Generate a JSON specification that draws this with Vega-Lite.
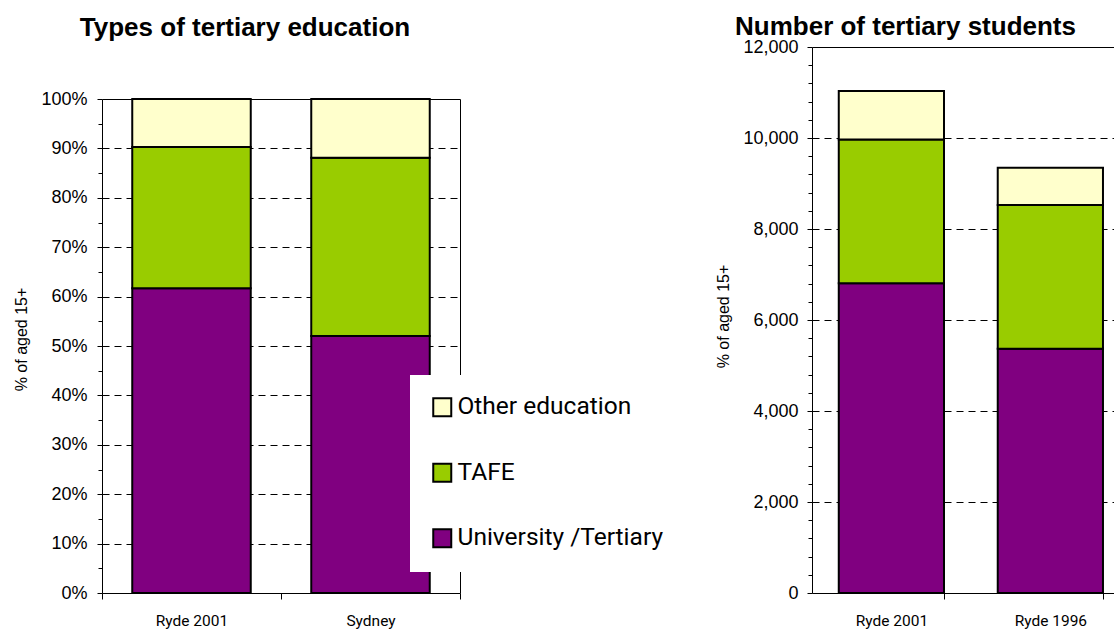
{
  "$schema": "https://vega.github.io/schema/vega-lite/v6.json",
  "background": "white",
  "padding": {"left": 13, "top": 14, "right": 0, "bottom": 0},
  "spacing": 254,
  "datasets": {
    "pct": [
      {"Area": "Ryde 2001", "Type": "University /Tertiary", "Value": 61.7},
      {"Area": "Ryde 2001", "Type": "TAFE", "Value": 28.6},
      {"Area": "Ryde 2001", "Type": "Other education", "Value": 9.7},
      {"Area": "Sydney", "Type": "University /Tertiary", "Value": 52.0},
      {"Area": "Sydney", "Type": "TAFE", "Value": 36.1},
      {"Area": "Sydney", "Type": "Other education", "Value": 11.9}
    ],
    "count": [
      {"Area": "Ryde 2001", "Type": "University /Tertiary", "Value": 6806},
      {"Area": "Ryde 2001", "Type": "TAFE", "Value": 3161},
      {"Area": "Ryde 2001", "Type": "Other education", "Value": 1067},
      {"Area": "Ryde 1996", "Type": "University /Tertiary", "Value": 5370},
      {"Area": "Ryde 1996", "Type": "TAFE", "Value": 3155},
      {"Area": "Ryde 1996", "Type": "Other education", "Value": 819}
    ]
  },
  "hconcat": [
    {
      "width": 358,
      "height": 546,
      "view": {"stroke": null},
      "title": {"text": "Types of tertiary education", "frame": "group", "anchor": "middle", "dx": -36, "offset": -15, "baseline": "alphabetic"},
      "data": {"name": "pct"},
      "layer": [
        {
          "mark": {"type": "bar", "stroke": "black", "strokeWidth": 2, "width": {"band": 0.662}},
          "encoding": {
            "x": {
              "field": "Area", "type": "nominal", "sort": ["Ryde 2001", "Sydney"],
              "scale": {"paddingInner": 0, "paddingOuter": 0},
              "axis": {"title": null, "labelAngle": 0, "labelFont": "Roboto", "labelFontSize": 15.5, "labelPadding": 14, "tickSize": 6, "tickBand": "extent"}
            },
            "y": {
              "field": "Value", "type": "quantitative", "stack": "zero",
              "scale": {"domain": [0, 100], "nice": false, "range": [546, 52]},
              "axis": {
                "title": "% of aged 15+",
                "titleY": 292,
                "values": [0,5,10,15,20,25,30,35,40,45,50,55,60,65,70,75,80,85,90,95,100],
                "labelExpr": "datum.value % 10 == 0 ? datum.value + '%' : ''",
                "grid": true,
                "gridOpacity": {"condition": {"test": "datum.value % 10 == 0 && datum.value > 0", "value": 1}, "value": 0},
                "gridDash": {"condition": {"test": "datum.value == 100", "value": []}, "value": [7, 5]},
                "tickSize": {"condition": {"test": "datum.value % 10 == 0", "value": 5}, "value": 4},
                "labelPadding": 10,
                "titlePadding": 11
              }
            },
            "color": {
              "field": "Type", "type": "nominal",
              "scale": {"domain": ["Other education", "TAFE", "University /Tertiary"], "range": ["#FFFFCC", "#99CC00", "#800080"]},
              "legend": {"title": null}
            },
            "order": {"field": "Type", "sort": "descending"}
          }
        },
        {
          "mark": {"type": "bar", "opacity": 0, "width": {"band": 0.662}},
          "encoding": {
            "x": {"field": "Area", "type": "nominal", "sort": ["Ryde 2001", "Sydney"]},
            "y": {
              "field": "Value", "type": "quantitative", "stack": "zero",
              "scale": {"domain": [0, 100], "nice": false, "range": [546, 52]},
              "axis": {"orient": "right", "title": null, "labels": false, "ticks": false, "grid": false, "domain": true, "minExtent": 0, "maxExtent": 0}
            }
          }
        }
      ],
      "resolve": {"scale": {"y": "independent"}}
    },
    {
      "width": 303,
      "height": 546,
      "view": {"stroke": null},
      "title": {"text": "Number of tertiary students", "frame": "group", "anchor": "middle", "dx": -58, "offset": -23, "baseline": "alphabetic"},
      "data": {"name": "count"},
      "mark": {"type": "bar", "stroke": "black", "strokeWidth": 2},
      "encoding": {
        "x": {
          "field": "Area", "type": "nominal", "sort": ["Ryde 2001", "Ryde 1996"],
          "scale": {"paddingInner": 0.338, "paddingOuter": 0.122, "align": 0.69},
          "axis": {"title": null, "labelAngle": 0, "labelFont": "Roboto", "labelFontSize": 15.5, "labelPadding": 14, "tickSize": 6, "tickBand": "extent", "tickOffset": -26.85,
            "tickOpacity": {"condition": {"test": "datum.extra", "value": 0}, "value": 1}}
        },
        "y": {
          "field": "Value", "type": "quantitative", "stack": "zero",
          "scale": {"domain": [0, 12000], "nice": false},
          "axis": {
            "title": "% of aged 15+",
            "titleY": 269,
            "values": [0,400,800,1200,1600,2000,2400,2800,3200,3600,4000,4400,4800,5200,5600,6000,6400,6800,7200,7600,8000,8400,8800,9200,9600,10000,10400,10800,11200,11600,12000],
            "labelExpr": "datum.value % 2000 == 0 ? format(datum.value, ',') : ''",
            "grid": true,
            "gridOpacity": {"condition": {"test": "datum.value % 2000 == 0 && datum.value > 0", "value": 1}, "value": 0},
            "gridDash": {"condition": {"test": "datum.value == 12000", "value": []}, "value": [7, 5]},
            "tickSize": {"condition": {"test": "datum.value % 2000 == 0", "value": 5}, "value": 4},
            "labelPadding": 9,
            "titlePadding": 11
          }
        },
        "color": {
          "field": "Type", "type": "nominal",
          "scale": {"domain": ["Other education", "TAFE", "University /Tertiary"], "range": ["#FFFFCC", "#99CC00", "#800080"]},
          "legend": {"title": null}
        },
        "order": {"field": "Type", "sort": "descending"}
      }
    }
  ],
  "config": {
    "font": "Liberation Sans",
    "title": {"font": "Liberation Sans", "fontSize": 26, "fontWeight": "bold", "color": "black"},
    "axis": {
      "domainColor": "black", "tickColor": "black", "labelColor": "black", "titleColor": "black",
      "labelFont": "Liberation Sans", "labelFontSize": 18, "titleFont": "Liberation Sans", "titleFontSize": 16, "titleFontWeight": "normal",
      "gridColor": "black", "gridDash": [7, 5], "gridWidth": 1, "domainWidth": 1, "tickWidth": 1
    },
    "legend": {
      "orient": "none", "legendX": 308, "legendY": 328,
      "fillColor": "white", "padding": 20, "rowPadding": 38.5,
      "labelFont": "Roboto", "labelFontSize": 24.5, "labelColor": "black", "labelOffset": 3, "labelLimit": 400,
      "symbolType": "square", "symbolSize": 324, "symbolStrokeColor": "black", "symbolStrokeWidth": 2, "symbolOpacity": 1
    }
  }
}
